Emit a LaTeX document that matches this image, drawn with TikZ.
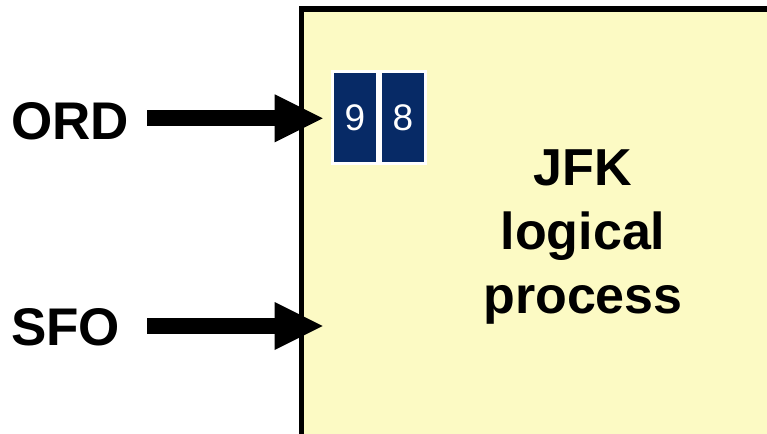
\documentclass[tikz,border=0pt]{standalone}
\usepackage{fontspec}
\setmainfont{Liberation Sans}
\usetikzlibrary{arrows.meta}
\definecolor{boxfill}{HTML}{FCFAC4}
\definecolor{tilefill}{HTML}{072A66}
\tikzset{
  bigarrow/.style={line width=16pt, -{Triangle[length=48pt,width=48pt,line width=0pt]}},
  airport/.style={font=\fontsize{53}{60}\selectfont\bfseries, inner sep=0pt, anchor=base west},
  tile/.style={draw=white, line width=3pt, fill=tilefill, text=white, minimum width=45pt, minimum height=92pt, inner sep=0pt, font=\fontsize{37}{40}\selectfont},
  lpbox/.style={draw=black, line width=5.5pt, fill=boxfill}
}
\begin{document}
\begin{tikzpicture}[x=1pt,y=-1pt]
\useasboundingbox (0,0) rectangle (767,433);
\clip (0,0) rectangle (767,433);
\draw[lpbox] (301.5,9) rectangle (820,480);
\node[tile] (t9) at (355,117.5) {9};
\node[tile] (t8) at (403,117.5) {8};
\node[font=\fontsize{52}{64}\selectfont\bfseries, align=center, inner sep=0pt, anchor=north] (jfk) at (583,149.5) {JFK\\logical\\process};
\node[airport] (ord) at (11,139.5) {ORD};
\node[airport] (sfo) at (11,345.5) {SFO};
\coordinate (ordtail) at (147,118.3);
\coordinate (ordhead) at (322.7,118.3);
\coordinate (sfotail) at (147,326);
\coordinate (sfohead) at (322.7,326);
\draw[bigarrow] (ordtail) -- (ordhead);
\draw[bigarrow] (sfotail) -- (sfohead);
\end{tikzpicture}
\end{document}
